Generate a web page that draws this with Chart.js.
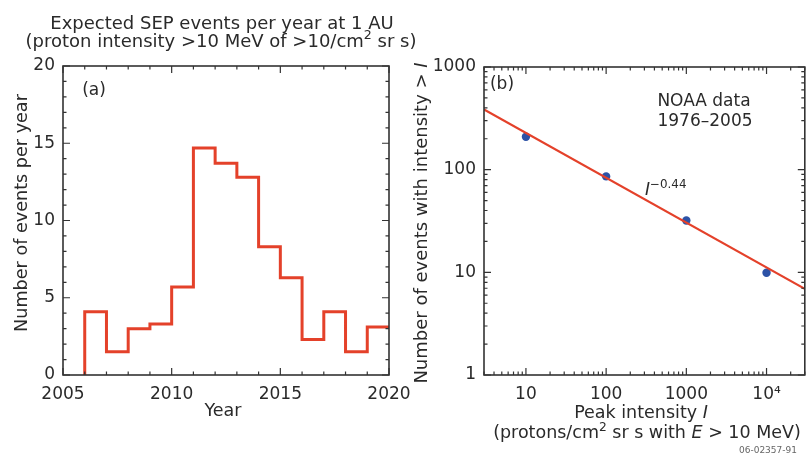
<!DOCTYPE html>
<html>
<head>
<meta charset="utf-8">
<script src="https://cdn.jsdelivr.net/npm/chart.js@4/dist/chart.umd.min.js"></script>
<style>
  body { margin: 0; background: #fff; }
  #wrap { position: relative; width: 807px; height: 455px; overflow: hidden; }
  canvas { position: absolute; top: 0; }
  #chartA { left: 0; }
  #chartB { left: 400px; }
</style>
</head>
<body>
<div id="wrap">
  <canvas id="chartA" width="430" height="455"></canvas>
  <canvas id="chartB" width="409" height="455"></canvas>
</div>
<script>
// (a) expected SEP events per year
const years = [2006, 2007, 2008, 2009, 2010, 2011, 2012, 2013, 2014, 2015, 2016, 2017, 2018, 2019];
const eventsPerYear = [4.1, 1.5, 3.0, 3.3, 5.7, 14.7, 13.7, 12.8, 8.3, 6.3, 2.3, 4.1, 1.5, 3.1];
const yearTicks = [2005, 2010, 2015, 2020];
const countTicks = [0, 5, 10, 15, 20];

// (b) NOAA data 1976-2005
const peakIntensity = [10, 100, 1000, 10000];
const eventsAbove = [209, 86, 32, 9.9];
const fitIntensity = [3, 30000];
const fitEvents = [385, 6.9];
const intensityTicks = [10, 100, 1000, 10000];
const eventTicks = [1, 10, 100, 1000];

const FONT = '"DejaVu Sans", sans-serif';
const TEXT = "#2a2a2a";
const RED = "#e4412a";
const BLUE = "#2c52a6";

// step line: rise from 0 at first year, hold last value up to 2020
const stepPoints = [{ x: years[0], y: 0 }];
years.forEach((yr, i) => stepPoints.push({ x: yr, y: eventsPerYear[i] }));
stepPoints.push({ x: 2020, y: eventsPerYear[eventsPerYear.length - 1] });

function linearMinor(min, max, step) {
    const out = [];
    for (let v = min; v <= max + 1e-9; v += step) out.push(v);
    return out;
}
function logMinor(min, max) {
    const out = [];
    for (let d = 1; d <= 100000; d *= 10) {
        for (let m = 1; m <= 9; m++) {
            const v = d * m;
            if (v >= min && v <= max) out.push(v);
        }
    }
    return out;
}

// frame with inward ticks on all four sides
const frame = {
    id: "frame",
    afterDatasetsDraw(chart, args, opts) {
        const { ctx, chartArea: a, scales } = chart;
        const { x, y } = scales;
        ctx.save();
        ctx.strokeStyle = "#333";
        ctx.lineWidth = 1.2;
        ctx.beginPath();
        opts.xMinor.forEach((v) => {
            const len = opts.xMajor.includes(v) ? 7 : 3.5;
            const px = x.getPixelForValue(v);
            ctx.moveTo(px, a.bottom); ctx.lineTo(px, a.bottom - len);
            ctx.moveTo(px, a.top); ctx.lineTo(px, a.top + len);
        });
        opts.yMinor.forEach((v) => {
            const len = opts.yMajor.includes(v) ? 7 : 3.5;
            const py = y.getPixelForValue(v);
            ctx.moveTo(a.left, py); ctx.lineTo(a.left + len, py);
            ctx.moveTo(a.right, py); ctx.lineTo(a.right - len, py);
        });
        ctx.stroke();
        ctx.lineWidth = 1.6;
        ctx.strokeRect(a.left, a.top, a.right - a.left, a.bottom - a.top);
        ctx.restore();
    },
};

// text with italic / superscript parts
function drawRich(ctx, item) {
    const size = item.size || 17;
    const fontFor = (p) => (p.i ? "italic " : "") + (p.sup ? size * 0.7 : size) + "px " + FONT;
    let total = 0;
    item.parts.forEach((p) => {
        ctx.font = fontFor(p);
        p.w = ctx.measureText(p.t).width;
        total += p.w;
    });
    ctx.save();
    ctx.translate(item.x, item.y);
    if (item.rotate) ctx.rotate(-Math.PI / 2);
    ctx.fillStyle = item.color || TEXT;
    ctx.textAlign = "left";
    ctx.textBaseline = "alphabetic";
    let cx = item.align === "left" ? 0 : item.align === "right" ? -total : -total / 2;
    item.parts.forEach((p) => {
        ctx.font = fontFor(p);
        ctx.fillText(p.t, cx, p.sup ? -size * 0.42 : 0);
        cx += p.w;
    });
    ctx.restore();
}

const notes = {
    id: "notes",
    afterDraw(chart, args, opts) {
        opts.items.forEach((item) => drawRich(chart.ctx, item));
    },
};

const tickFont = { family: FONT, size: 17 };

function axis(min, max, tickValues, fitSize, isX, type) {
    return {
        type: type,
        min: min,
        max: max,
        afterBuildTicks: (s) => { s.ticks = tickValues.map((v) => ({ value: v })); },
        afterFit: (s) => { if (isX) s.height = fitSize; else s.width = fitSize; },
        grid: { display: false, drawTicks: false },
        border: { display: false },
        ticks: {
            font: tickFont,
            color: TEXT,
            padding: isX ? 9 : 8,
            autoSkip: false,
            maxRotation: 0,
            callback: (v) => (v === 10000 ? "10\u2074" : String(v)),
        },
    };
}

new Chart(document.getElementById("chartA"), {
    type: "line",
    data: {
        datasets: [{
            data: stepPoints,
            stepped: true,
            borderColor: RED,
            borderWidth: 3,
            pointRadius: 0,
            fill: false,
        }],
    },
    options: {
        responsive: false,
        animation: false,
        layout: { padding: { top: 66, right: 41, left: 0, bottom: 0 } },
        plugins: {
            legend: { display: false },
            tooltip: { enabled: false },
            frame: {
                xMajor: yearTicks, xMinor: linearMinor(2005, 2020, 1),
                yMajor: countTicks, yMinor: linearMinor(0, 20, 1),
            },
            notes: {
                items: [
                    { parts: [{ t: "Expected SEP events per year at 1 AU" }], x: 222, y: 29, size: 18 },
                    { parts: [{ t: "(proton intensity >10 MeV of >10/cm" }, { t: "2", sup: true }, { t: " sr s)" }], x: 221, y: 46.5, size: 18 },
                    { parts: [{ t: "Number of events per year" }], x: 27, y: 213, size: 17.6, rotate: true },
                    { parts: [{ t: "Year" }], x: 223, y: 416, size: 17.5 },
                    { parts: [{ t: "(a)" }], x: 94, y: 95, size: 17 },
                ],
            },
        },
        scales: {
            x: axis(2005, 2020, yearTicks, 80, true, "linear"),
            y: axis(0, 20, countTicks, 63, false, "linear"),
        },
    },
    plugins: [frame, notes],
});

new Chart(document.getElementById("chartB"), {
    type: "scatter",
    data: {
        datasets: [
            {
                type: "line",
                data: fitIntensity.map((v, i) => ({ x: v, y: fitEvents[i] })),
                borderColor: RED,
                borderWidth: 2.2,
                pointRadius: 0,
                fill: false,
            },
            {
                data: peakIntensity.map((v, i) => ({ x: v, y: eventsAbove[i] })),
                backgroundColor: BLUE,
                borderWidth: 0,
                pointRadius: 4.2,
            },
        ],
    },
    options: {
        responsive: false,
        animation: false,
        layout: { padding: { top: 67, right: 2, left: 0, bottom: 0 } },
        plugins: {
            legend: { display: false },
            tooltip: { enabled: false },
            frame: {
                xMajor: intensityTicks, xMinor: logMinor(3, 30000),
                yMajor: eventTicks, yMinor: logMinor(1, 1000),
            },
            notes: {
                items: [
                    { parts: [{ t: "Number of events with intensity > " }, { t: "I", i: true }], x: 27, y: 223, size: 18, rotate: true },
                    { parts: [{ t: "Peak intensity " }, { t: "I", i: true }], x: 241, y: 418, size: 17.5 },
                    { parts: [{ t: "(protons/cm" }, { t: "2", sup: true }, { t: " sr s with " }, { t: "E", i: true }, { t: " > 10 MeV)" }], x: 247, y: 438, size: 17.5 },
                    { parts: [{ t: "(b)" }], x: 102, y: 89, size: 17 },
                    { parts: [{ t: "NOAA data" }], x: 304, y: 106, size: 17 },
                    { parts: [{ t: "1976\u20132005" }], x: 305, y: 126, size: 17 },
                    { parts: [{ t: "I", i: true }, { t: "\u22120.44", sup: true }], x: 245, y: 195, size: 17, align: "left" },
                    { parts: [{ t: "06-02357-91" }], x: 397, y: 453, size: 9, align: "right", color: "#666" },
                ],
            },
        },
        scales: {
            x: axis(3, 30000, intensityTicks, 80, true, "logarithmic"),
            y: axis(1, 1000, eventTicks, 84, false, "logarithmic"),
        },
    },
    plugins: [frame, notes],
});
</script>
</body>
</html>
